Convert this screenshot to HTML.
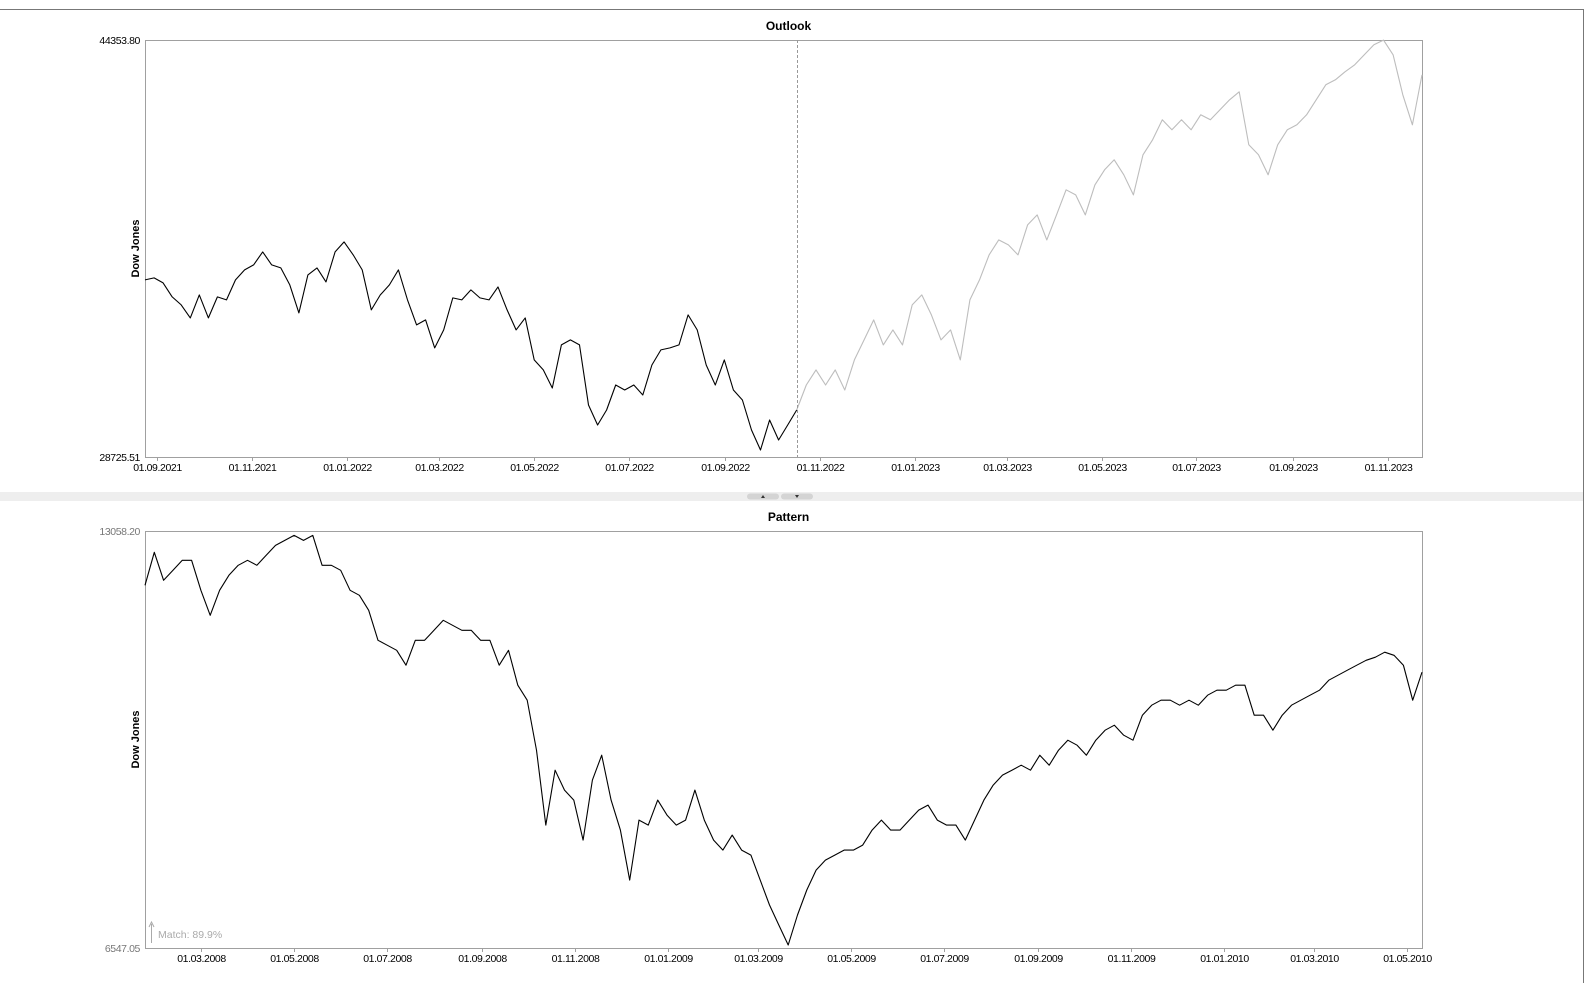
<!DOCTYPE html>
<html><head><meta charset="utf-8"><style>
html,body{margin:0;padding:0;background:#fff;width:1589px;height:983px;overflow:hidden;font-family:"Liberation Sans",sans-serif;}
svg text{font-family:"Liberation Sans",sans-serif;}
</style></head><body>
<svg id="root" width="1589" height="983" xmlns="http://www.w3.org/2000/svg">
<line x1="0" y1="9.5" x2="1583.5" y2="9.5" stroke="#777"/>
<line x1="1583.5" y1="9" x2="1583.5" y2="983" stroke="#777"/>
<rect x="0" y="492" width="1583" height="9" fill="#eeeeee"/>
<rect x="747" y="493.5" width="32" height="6" rx="3" fill="#d4d4d4"/>
<polygon points="761,498 765,498 763,495" fill="#333"/>
<rect x="781" y="493.5" width="32" height="6" rx="3" fill="#d4d4d4"/>
<polygon points="795,495 799,495 797,498" fill="#333"/>
<g id="top"></g>
<g id="bot"></g>
</svg>
<script>
// ---------- data ----------
const outlookTitle = "Outlook";
const outlookMin = 28725.51, outlookMax = 44353.80;
const outlookStart = "2021-08-24", outlookSplit = "2022-10-17", outlookEnd = "2023-11-23";
const outlookTicks = ["01.09.2021","01.11.2021","01.01.2022","01.03.2022","01.05.2022","01.07.2022","01.09.2022","01.11.2022","01.01.2023","01.03.2023","01.05.2023","01.07.2023","01.09.2023","01.11.2023"];
const outlookPast = [35363,35438,35250,34725,34425,33938,34800,33938,34725,34613,35363,35738,35925,36413,35925,35813,35175,34125,35550,35813,35288,36413,36788,36300,35738,34238,34800,35175,35738,34613,33675,33863,32813,33488,34688,34613,34988,34688,34613,35100,34238,33488,33938,32363,31988,31313,32925,33113,32925,30675,29925,30488,31425,31238,31425,31050,32175,32738,32813,32925,34050,33488,32175,31425,32363,31238,30863,29738,28988,30113,29363,29925,30488];
const outlookFuture = [30488,31425,31988,31425,31988,31238,32363,33113,33863,32925,33488,32925,34425,34800,34050,33113,33488,32363,34613,35363,36300,36863,36675,36300,37425,37800,36863,37800,38738,38550,37800,38925,39488,39863,39300,38550,40050,40613,41363,40988,41363,40988,41550,41363,41738,42113,42413,40425,40050,39300,40425,40988,41175,41550,42113,42675,42863,43163,43425,43800,44175,44350,43800,42300,41175,43050];

const patternTitle = "Pattern";
const patternMin = 6547.05, patternMax = 13058.20;
const patternStart = "2008-01-24", patternEnd = "2010-05-11";
const patternTicks = ["01.03.2008","01.05.2008","01.07.2008","01.09.2008","01.11.2008","01.01.2009","01.03.2009","01.05.2009","01.07.2009","01.09.2009","01.11.2009","01.01.2010","01.03.2010","01.05.2010"];
const patternValues = [12210,12725,12288,12444,12600,12600,12132,11742,12132,12366,12522,12600,12522,12678,12834,12912,12990,12912,12990,12522,12522,12444,12132,12054,11820,11352,11274,11196,10962,11352,11352,11508,11664,11586,11508,11508,11352,11352,10962,11196,10650,10416,9636,8466,9324,9012,8856,8232,9168,9558,8856,8388,7608,8544,8466,8856,8622,8466,8544,9012,8544,8232,8076,8310,8076,7998,7608,7218,6906,6594,7062,7452,7764,7920,7998,8076,8076,8154,8388,8544,8388,8388,8544,8700,8778,8544,8466,8466,8232,8544,8856,9090,9246,9324,9402,9324,9558,9402,9636,9792,9714,9558,9792,9948,10026,9870,9792,10182,10338,10416,10416,10338,10416,10338,10494,10572,10572,10650,10650,10182,10182,9948,10182,10338,10416,10494,10572,10728,10806,10884,10962,11040,11087,11165,11118,10962,10416,10853];
const matchText = "Match: 89.9%";

// ---------- drawing ----------
const NS = "http://www.w3.org/2000/svg";
function mk(parent, tag, attrs){const e=document.createElementNS(NS,tag);for(const k in attrs)e.setAttribute(k,attrs[k]);parent.appendChild(e);return e;}
function dayOf(s){return Date.parse(s+"T00:00:00Z")/86400000;}
function tickDay(t){const p=t.split(".");return dayOf(p[2]+"-"+p[1]+"-"+p[0]);}
const L=145,R=1422;

function frame(g, top, bottom, title, tmin, tmax, ticks, d0, d1, valColor){
  const xs=d=>L+(d-d0)/(d1-d0)*(R-L);
  const tt=mk(g,"text",{x:(L+R)/2+5,y:top-10,"text-anchor":"middle","font-size":"12","font-weight":"bold",fill:"#000"});
  tt.textContent=title;
  
  
  const fr=mk(g,"rect",{x:L+0.5,y:top+0.5,width:R-L,height:bottom-top,fill:"none",stroke:"#a0a0a0"});
  
  
  const yt=mk(g,"text",{x:0,y:0,transform:`translate(139,${(top+bottom)/2}) rotate(-90)`,"text-anchor":"middle","font-size":"11","font-weight":"bold",fill:"#000"});
  yt.textContent="Dow Jones";
  
  
  const ymax=mk(g,"text",{x:140,y:top+4,"text-anchor":"end","font-size":"10.5",fill:valColor,"letter-spacing":"-0.4"});
  ymax.textContent=tmax.toFixed(2);
  
  
  const ymin=mk(g,"text",{x:140,y:bottom+4,"text-anchor":"end","font-size":"10.5",fill:valColor,"letter-spacing":"-0.4"});
  ymin.textContent=tmin.toFixed(2);
  
  
  ticks.forEach(t=>{
    const x=Math.round(xs(tickDay(t)))+0.5;
    const tk=mk(g,"line",{x1:x,y1:bottom,x2:x,y2:bottom+4,stroke:"#a0a0a0"});
    
    
    const lb=mk(g,"text",{x:x,y:bottom+14,"text-anchor":"middle","font-size":"10.5",fill:"#000","letter-spacing":"-0.4"});
    lb.textContent=t;
    
    
  });
  return xs;
}
function series(g, vals, da, db, xs, ys, color, name){
  const n=vals.length;
  const pts=vals.map((v,i)=>xs(da+(db-da)*i/(n-1)).toFixed(1)+","+ys(v).toFixed(1)).join(" ");
  const p=mk(g,"polyline",{points:pts,fill:"none",stroke:color,"stroke-width":"1.1","stroke-linejoin":"round"});
  
  
}

// top chart
(function(){
  const g=document.getElementById("top"),T=40,B=457;
  const d0=dayOf(outlookStart),d1=dayOf(outlookEnd),ds=dayOf(outlookSplit);
  const xs=frame(g,T,B,outlookTitle,outlookMin,outlookMax,outlookTicks,d0,d1,"#000");
  const ys=v=>B-(v-outlookMin)/(outlookMax-outlookMin)*(B-T);
  series(g,outlookFuture,ds,d1,xs,ys,"#bdbdbd","outlook-forecast-line");
  series(g,outlookPast,d0,ds,xs,ys,"#000","outlook-history-line");
  const sx=Math.round(xs(ds))+0.5;
  const dl=mk(g,"line",{x1:sx,y1:T,x2:sx,y2:B,stroke:"#999","stroke-dasharray":"3,2"});
  
  
})();
// bottom chart
(function(){
  const g=document.getElementById("bot"),T=531,B=948;
  const d0=dayOf(patternStart),d1=dayOf(patternEnd);
  const xs=frame(g,T,B,patternTitle,patternMin,patternMax,patternTicks,d0,d1,"#777");
  const ys=v=>B-(v-patternMin)/(patternMax-patternMin)*(B-T);
  series(g,patternValues,d0,d1,xs,ys,"#000","pattern-line");
  const ar=mk(g,"path",{d:"M151.5,943 V924 M149,927 L151.5,922 L154,927",fill:"none",stroke:"#aaa"});
  
  
  const mt=mk(g,"text",{x:158,y:938,"font-size":"10.5",fill:"#aaa"});
  mt.textContent=matchText;
  
  
})();
</script>
</body></html>
